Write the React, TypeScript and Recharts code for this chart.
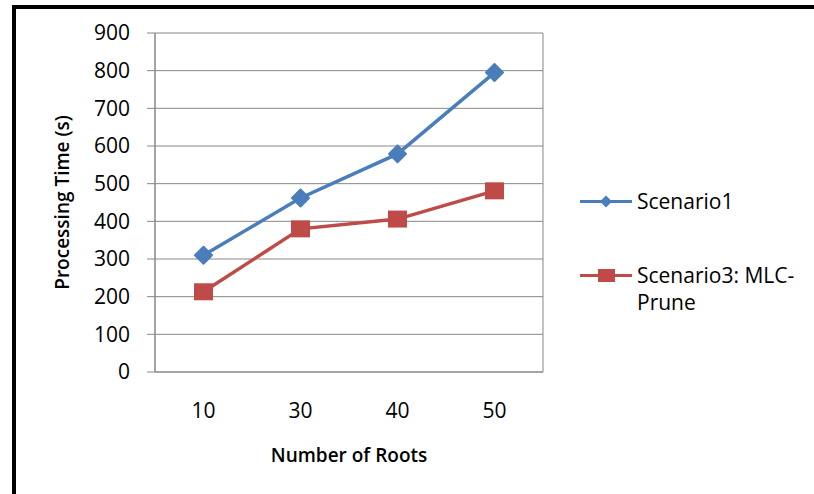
import React from "react";
import {
  LineChart,
  Line,
  XAxis,
  YAxis,
  CartesianGrid,
  Legend,
} from "recharts";

const roots = ["10", "30", "40", "50"];
const scenario1 = [310, 462, 579, 795];
const scenario3 = [213, 380, 406, 481];
const yTicks = [0, 100, 200, 300, 400, 500, 600, 700, 800, 900];

const BLUE = "#4A7EBB";
const RED = "#BE4B48";
const GRID = "#878787";
const FONT = "'Open Sans', 'DejaVu Sans', sans-serif";

// x positions sit in the middle of each category band (Excel style)
const data = roots.map((r, i) => ({
  root: r,
  pos: i + 0.5,
  s1: scenario1[i],
  s3: scenario3[i],
}));
const bandEdges = [0, ...roots.map((_, i) => i + 1)];

function Diamond(props: any) {
  const { cx, cy, index } = props;
  if (cx == null || cy == null) return <g key={index} />;
  return (
    <path
      key={index}
      d={`M${cx},${cy - 8.5}L${cx + 8.5},${cy}L${cx},${cy + 8.5}L${cx - 8.5},${cy}Z`}
      fill={BLUE}
      stroke={BLUE}
      strokeWidth={2}
      strokeLinejoin="round"
    />
  );
}

function Square(props: any) {
  const { cx, cy, index } = props;
  if (cx == null || cy == null) return <g key={index} />;
  return <rect key={index} x={cx - 9.5} y={cy - 8.5} width={19} height={17} fill={RED} />;
}

function LegendBox() {
  const item = (marker: React.ReactNode, color: string, text: string, mt: number) => (
    <div style={{ display: "flex", alignItems: "flex-start", marginTop: mt }}>
      <svg width={52} height={27} style={{ flex: "none" }}>
        <line x1={0} x2={52} y1={13.5} y2={13.5} stroke={color} strokeWidth={3} />
        {marker}
      </svg>
      <div style={{ marginLeft: 5, width: 170, fontSize: 21, lineHeight: "27px", color: "#000" }}>
        {text}
      </div>
    </div>
  );
  return (
    <div style={{ fontFamily: FONT }}>
      {item(
        <path d="M26,7.5L32,13.5L26,19.5L20,13.5Z" fill={BLUE} />,
        BLUE,
        "Scenario1",
        0
      )}
      {item(<rect x={18} y={7} width={17} height={13} fill={RED} />, RED, "Scenario3: MLC-Prune", 47)}
    </div>
  );
}

export default function App() {
  return (
    <div
      style={{
        position: "absolute",
        left: 0,
        top: 0,
        width: 814,
        height: 494,
        background: "#fff",
        fontFamily: FONT,
        overflow: "hidden",
      }}
    >
      <div
        style={{
          position: "absolute",
          left: 12,
          top: 5,
          right: -10,
          bottom: -10,
          borderLeft: "4px solid #000",
          borderTop: "4px solid #000",
        }}
      />
      <LineChart
        width={814}
        height={494}
        data={data}
        margin={{ top: 33, right: 271, bottom: 120, left: 0 }}
      >
        <CartesianGrid xAxisId="grid" stroke={GRID} strokeWidth={1} />
        <XAxis
          xAxisId="grid"
          dataKey="pos"
          type="number"
          domain={[0, roots.length]}
          ticks={bandEdges}
          tick={false}
          tickSize={6}
          height={1}
          stroke={GRID}
          axisLine={{ stroke: GRID }}
          tickLine={{ stroke: GRID }}
        />
        <XAxis
          xAxisId="labels"
          dataKey="pos"
          type="number"
          domain={[0, roots.length]}
          ticks={data.map((d) => d.pos)}
          tickFormatter={(v: number) => roots[Math.floor(v)]}
          axisLine={false}
          tickLine={false}
          tickSize={0}
          tickMargin={30}
          height={1}
          tick={{ fontSize: 21, fill: "#000" }}
          label={{
            value: "Number of Roots",
            position: "bottom",
            offset: 75,
            style: { fontSize: 19, fontWeight: 600, fill: "#000" },
          }}
        />
        <YAxis
          domain={[0, 900]}
          ticks={yTicks}
          width={155}
          tickSize={8}
          tickMargin={17}
          axisLine={{ stroke: GRID }}
          tickLine={{ stroke: GRID }}
          tick={{ fontSize: 21, fill: "#000" }}
          label={{
            value: "Processing Time (s)",
            position: "center",
            angle: -90,
            dx: -15,
            style: { fontSize: 19, fontWeight: 600, fill: "#000" },
          }}
        />
        <Line
          xAxisId="grid"
          type="linear"
          dataKey="s1"
          name="Scenario1"
          stroke={BLUE}
          strokeWidth={3.5}
          dot={Diamond}
          isAnimationActive={false}
        />
        <Line
          xAxisId="grid"
          type="linear"
          dataKey="s3"
          name="Scenario3: MLC-Prune"
          stroke={RED}
          strokeWidth={3.5}
          dot={Square}
          isAnimationActive={false}
        />
        <Legend
          layout="vertical"
          align="center"
          verticalAlign="middle"
          content={() => <LegendBox />}
          wrapperStyle={{ left: 580, top: 188, width: 234 }}
        />
      </LineChart>
    </div>
  );
}
